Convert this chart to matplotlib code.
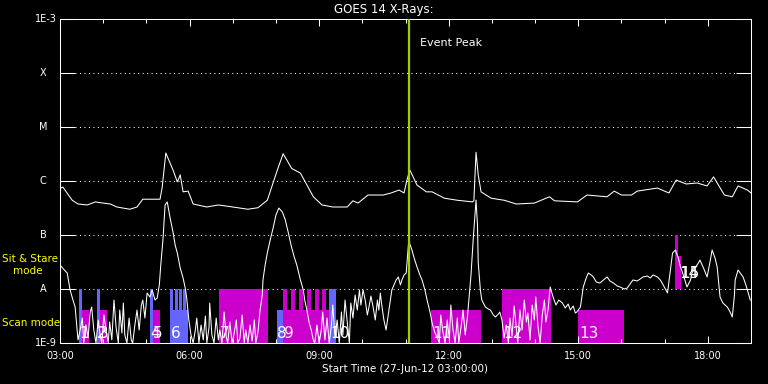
import numpy as np
import matplotlib
matplotlib.use('Agg')
import matplotlib.pyplot as plt
from matplotlib.ticker import NullLocator, FixedLocator

plt.rcParams['font.family'] = ['DejaVu Sans']

# minutes after 27-Jun-12 03:00:00
long_min = [0, 1, 4, 17, 25, 38, 49, 60, 70, 79,
            97, 107, 115, 125, 139, 142, 147, 157, 163, 167,
            171, 178, 185, 204, 220, 240, 261, 275, 288, 302,
            310, 322, 334, 352, 364, 379, 399, 407, 414, 428,
            449, 460, 471, 478, 482, 486, 496, 509, 517, 534,
            552, 573, 575, 578, 581, 585, 599, 617, 634, 659,
            680, 687, 719, 732, 760, 770, 780, 794, 802, 830,
            846, 856, 870, 885, 899, 908, 923, 934, 942, 955,
            960]
# 1-8 A flux, units of 1e-7 W/m2
long_flux = [6.8, 7.4, 7.7, 4.4, 3.75, 3.6, 4.1, 3.9, 3.75, 3.3,
             3.0, 3.3, 4.6, 4.6, 4.6, 7.7, 33, 16, 9.6, 13,
             6.3, 6.5, 3.75, 3.3, 3.6, 3.3, 3.0, 3.2, 4.4, 16,
             32, 17, 14, 5.1, 3.6, 3.3, 3.3, 4.3, 3.9, 5.5,
             5.5, 6.0, 6.8, 6.0, 10.4, 16, 8.4, 6.3, 6.3, 4.8,
             4.4, 4.1, 4.3, 34, 13, 6.3, 4.8, 4.4, 3.75, 3.9,
             5.1, 4.3, 4.1, 5.5, 5.1, 6.5, 5.5, 5.5, 6.5, 7.4,
             6.0, 10.4, 8.8, 9.2, 8.1, 11.9, 5.5, 5.1, 8.1, 6.8,
             6.0]

short_min = [0, 6, 10, 14, 18, 21, 25, 28, 31, 33,
             36, 39, 42, 44, 47, 50, 53, 56, 58, 61,
             64, 67, 69, 72, 75, 78, 81, 83, 86, 88,
             90, 93, 96, 99, 101, 104, 107, 110, 113, 115,
             118, 121, 125, 128, 132, 135, 138, 140, 143, 146,
             149, 153, 157, 160, 163, 167, 171, 174, 176, 179,
             182, 185, 188, 190, 193, 196, 199, 202, 204, 207,
             208, 211, 214, 217, 220, 222, 225, 228, 231, 233,
             236, 239, 242, 245, 247, 250, 253, 256, 258, 261,
             264, 267, 270, 272, 275, 278, 281, 282, 285, 288,
             292, 296, 300, 304, 309, 313, 317, 321, 325, 329,
             334, 338, 340, 343, 346, 349, 352, 354, 357, 360,
             363, 365, 368, 371, 374, 377, 379, 382, 385, 388,
             391, 393, 396, 399, 402, 404, 407, 410, 413, 416,
             418, 421, 424, 427, 429, 432, 435, 438, 441, 443,
             445, 447, 450, 453, 456, 459, 461, 464, 467, 470,
             473, 475, 478, 481, 484, 485, 486, 489, 492, 496,
             500, 503, 507, 510, 514, 517, 521, 524, 527, 529,
             532, 535, 538, 541, 543, 546, 549, 552, 554, 557,
             560, 563, 566, 568, 571, 574, 577, 578, 580, 581,
             584, 586, 591, 595, 598, 602, 605, 609, 611, 614,
             617, 620, 623, 625, 628, 631, 634, 636, 639, 642,
             645, 648, 650, 653, 656, 659, 661, 664, 667, 670,
             673, 675, 678, 681, 685, 689, 693, 698, 702, 706,
             709, 713, 716, 718, 723, 727, 731, 734, 738, 741,
             745, 750, 755, 760, 764, 769, 774, 778, 784, 788,
             792, 796, 802, 806, 810, 816, 820, 824, 830, 834,
             838, 844, 848, 851, 855, 859, 862, 866, 871, 876,
             878, 882, 887, 889, 894, 899, 903, 906, 910, 913,
             917, 921, 927, 931, 934, 937, 938, 942, 946, 949,
             952, 955, 959]
# 0.5-4 A flux, units of 1e-9 W/m2
short_flux = [27.8, 22.5, 19.8, 9.6, 6.25, 4.64, 1.14, 1.74, 2.9, 1.0,
              2.15, 1.24, 3.75, 4.64, 1.74, 1.0, 2.67, 1.35, 1.0, 3.3,
              1.74, 1.0, 2.45, 1.14, 6.25, 1.9, 1.0, 4.08, 1.53, 5.5,
              1.41, 1.0, 2.9, 1.14, 1.0, 2.15, 4.08, 1.74, 5.05, 6.25,
              2.9, 8.43, 7.11, 9.6, 6.25, 6.81, 11.9, 27.8, 80.9, 359,
              409, 206, 113, 65.1, 46.4, 24.5, 16.0, 10.4, 6.81, 2.67,
              1.41, 1.0, 1.74, 2.9, 1.0, 2.15, 1.14, 3.16, 1.0, 1.9,
              5.5, 1.41, 1.0, 2.9, 1.14, 1.74, 1.0, 3.75, 1.29, 1.0,
              2.45, 1.0, 1.53, 2.67, 1.0, 1.24, 3.3, 1.0, 1.74, 1.0,
              2.15, 1.09, 2.67, 1.0, 1.6, 4.08, 7.74, 14.7, 27.8, 46.4,
              80.9, 133, 234, 316, 265, 190, 113, 65.1, 40.8, 27.8,
              14.7, 9.6, 6.25, 4.08, 2.45, 1.74, 1.14, 1.0, 2.15, 1.0,
              1.74, 3.75, 1.14, 2.9, 1.0, 2.06, 5.05, 1.24, 2.67, 1.0,
              3.75, 1.41, 6.25, 2.45, 1.0, 5.5, 2.9, 7.74, 4.08, 9.6,
              5.05, 9.6, 6.25, 3.3, 4.45, 7.4, 4.64, 2.67, 6.25, 4.08,
              8.43, 5.05, 2.67, 1.74, 3.3, 6.25, 9.6, 11.9, 14.7, 16.7,
              11.9, 14.7, 18.2, 19.8, 65.1, 80.9, 68.0, 52.7, 37.5, 25.6,
              18.2, 14.7, 9.6, 6.25, 3.75, 2.34, 1.53, 1.29, 1.0, 3.3,
              1.6, 1.0, 2.67, 1.14, 5.05, 1.74, 1.0, 2.9, 1.0, 1.9,
              4.08, 1.41, 3.03, 6.25, 18.2, 80.9, 300, 443, 153, 31.6,
              9.6, 6.25, 4.64, 4.26, 4.08, 3.3, 3.03, 3.44, 3.75, 2.67,
              1.24, 2.15, 1.0, 2.9, 1.35, 4.84, 1.9, 1.0, 4.08, 1.74,
              6.25, 2.45, 3.59, 1.14, 5.05, 2.67, 7.11, 2.06, 1.0, 3.3,
              6.25, 2.45, 4.08, 10.9, 7.11, 5.05, 6.25, 5.5, 4.45, 5.27,
              4.08, 4.84, 3.59, 3.75, 4.64, 10.9, 16.0, 19.8, 18.2, 16.7,
              13.5, 12.9, 14.7, 16.7, 14.1, 12.9, 11.4, 10.9, 10.0, 10.4,
              12.4, 14.7, 14.1, 15.3, 16.7, 17.4, 16.0, 18.2, 16.7, 14.7,
              11.9, 8.43, 22.5, 46.4, 52.7, 37.5, 25.6, 18.2, 10.9, 14.7,
              19.8, 24.5, 30.3, 34.4, 24.5, 16.7, 31.6, 52.7, 37.5, 25.6,
              7.11, 5.5, 4.64, 3.75, 3.03, 7.74, 14.7, 22.5, 19.0, 16.7,
              12.9, 9.6, 6.25]

# observing windows (minutes after 03:00)
ss_blue_start = [26, 51, 125, 153, 160, 165, 171, 374]
ss_blue_end = [31, 56, 129, 157, 164, 170, 175, 384]
scan_blue_start = [153, 302]
scan_blue_end = [178, 310]
ss_mag_start = [221, 310, 321, 332, 343, 354, 364, 614]
ss_mag_end = [289, 316, 327, 338, 349, 360, 370, 682]
scan_mag_start = [31, 56, 129, 310, 516, 720]
scan_mag_end = [40, 65, 139, 374, 585, 784]
high_mag_start = [855, 859]
high_mag_end = [859, 863]
high_mag_top = [1e-7, 4.1e-8]

obs_labels = ['1', '2', '3', '4', '5', '6', '7', '8', '9', '10', '11', '12', '13', '14', '15']
obs_label_min = [27, 51, 54, 126, 129, 154, 222, 302, 311, 376, 517, 616, 721, 861, 862]
obs_label_flux = [1.25e-9] * 13 + [1.6e-8, 1.6e-8]

event_min = 485
goes_levels = [1e-9, 1e-8, 1e-7, 1e-6, 1e-5, 1e-4, 1e-3]
level_names = ['1E-9', 'A', 'B', 'C', 'M', 'X', '1E-3']
hour_ticks = [3, 6, 9, 12, 15, 18]

BLUE = '#6464ff'
MAG = '#cc00cc'
FG = 'white'
LW = 0.75


def hrs(m):
    return 3 + np.asarray(m, dtype=float) / 60.0


fig = plt.figure(figsize=(7.68, 3.84), dpi=100, facecolor='black')
ax = fig.add_axes([60 / 768, 41 / 384, 691 / 768, 324 / 384], facecolor='black')
ax.set_yscale('log')
ax.set_xlim(3, 19)
ax.set_ylim(1e-9, 1e-3)

scan_top = 4.08e-9
x0 = hrs(ss_blue_start)
ax.bar(x0, [1e-8 - 1e-9] * len(x0), width=hrs(ss_blue_end) - x0, bottom=1e-9,
       align='edge', color=BLUE, linewidth=0, zorder=1)
x0 = hrs(scan_blue_start)
ax.bar(x0, [scan_top - 1e-9] * len(x0), width=hrs(scan_blue_end) - x0, bottom=1e-9,
       align='edge', color=BLUE, linewidth=0, zorder=1)
x0 = hrs(ss_mag_start)
ax.bar(x0, [1e-8 - 1e-9] * len(x0), width=hrs(ss_mag_end) - x0, bottom=1e-9,
       align='edge', color=MAG, linewidth=0, zorder=1)
x0 = hrs(scan_mag_start)
ax.bar(x0, [scan_top - 1e-9] * len(x0), width=hrs(scan_mag_end) - x0, bottom=1e-9,
       align='edge', color=MAG, linewidth=0, zorder=1)
x0 = hrs(high_mag_start)
ax.bar(x0, np.array(high_mag_top) - 1e-8, width=hrs(high_mag_end) - x0, bottom=1e-8,
       align='edge', color=MAG, linewidth=0, zorder=1)

# dotted class levels
for lev in goes_levels[1:-1]:
    ax.axhline(lev, xmin=15 / 691, xmax=1 - 15 / 691, color=FG, lw=LW,
               ls=(0, (1, 3.3)), zorder=0.5)

ax.plot(hrs(long_min), np.array(long_flux) * 1e-7, color=FG, lw=LW, zorder=3)
ax.plot(hrs(short_min), np.array(short_flux) * 1e-9, color=FG, lw=LW, zorder=3)

for lab, m, f in zip(obs_labels, obs_label_min, obs_label_flux):
    ax.text(hrs(m), f, lab, color=FG, fontsize=11, ha='left', va='baseline', zorder=2)

ev = hrs(event_min)
ax.axvline(ev, color='#a0d000', lw=1.6, zorder=4)
ax.text(ev + 0.25, 3.6e-4, 'Event Peak', color=FG, fontsize=8, ha='left', va='center')

for s in ax.spines.values():
    s.set_color(FG)
    s.set_linewidth(LW)

ax.xaxis.set_major_locator(FixedLocator(hour_ticks))
ax.xaxis.set_minor_locator(FixedLocator(range(4, 19)))
ax.set_xticklabels(['%02d:00' % h for h in hour_ticks])
ax.tick_params(axis='x', which='major', direction='in', length=5, width=LW,
               top=True, bottom=True, colors=FG, labelsize=7, pad=6)
ax.tick_params(axis='x', which='minor', direction='in', length=3, width=LW,
               top=True, bottom=True, colors=FG)

ax.yaxis.set_major_locator(FixedLocator(goes_levels))
ax.yaxis.set_minor_locator(NullLocator())
ax.tick_params(axis='y', which='major', direction='in', length=10.8, width=LW,
               left=True, right=True, labelleft=False, colors=FG)

ytr = ax.get_yaxis_transform()
for lev, name in zip(goes_levels, level_names):
    if name.startswith('1E'):
        ax.text(-3 / 691, lev, name, transform=ytr, color=FG, fontsize=7,
                ha='right', va='center')
    else:
        ax.text(-17 / 691, lev, name, transform=ytr, color=FG, fontsize=7,
                ha='center', va='center')

fig.text(384 / 768, 1 - 10 / 384, 'GOES 14 X-Rays:', color=FG, fontsize=8.5,
         ha='center', va='center')
fig.text(405 / 768, 1 - 369 / 384, 'Start Time (27-Jun-12 03:00:00)', color=FG,
         fontsize=7.5, ha='center', va='center')
fig.text(2 / 768, 1 - 259 / 384, 'Sit & Stare', color='yellow', fontsize=7.5,
         ha='left', va='center')
fig.text(13 / 768, 1 - 271 / 384, 'mode', color='yellow', fontsize=7.5,
         ha='left', va='center')
fig.text(2 / 768, 1 - 323 / 384, 'Scan mode', color='yellow', fontsize=7.5,
         ha='left', va='center')

fig.savefig('out.png', dpi=100, facecolor='black')
